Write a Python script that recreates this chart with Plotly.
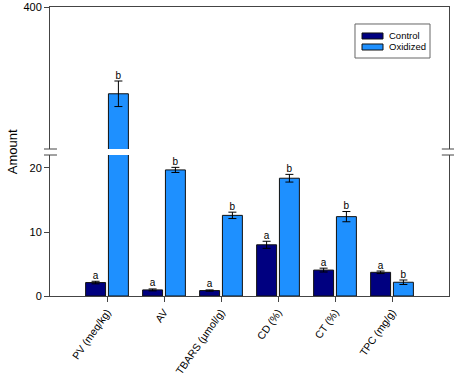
import plotly.graph_objects as go

categories = ["PV (meq/kg)", "AV", "TBARS (µmol/g)", "CD (%)", "CT (%)", "TPC (mg/g)"]
series_names = ["Control", "Oxidized"]
control = [2.1, 0.95, 0.85, 8.0, 4.05, 3.7]
control_err = [0.2, 0.15, 0.1, 0.55, 0.3, 0.2]
oxidized = [169.0, 19.7, 12.6, 18.4, 12.4, 2.15]
oxidized_err = [34.0, 0.4, 0.5, 0.6, 0.8, 0.35]
control_letters = ["a", "a", "a", "a", "a", "a"]
oxidized_letters = ["b", "b", "b", "b", "b", "b"]

LOW_MAX = 22.03
HIGH_MIN = 22.0
HIGH_MAX = 400.0

FONT = "Liberation Sans, Arial, sans-serif"
C_CTRL = "#000080"
C_OX = "#1E90FF"

idx = list(range(len(categories)))
x_ctrl = [i - 0.2 for i in idx]
x_ox = [i + 0.2 for i in idx]

fig = go.Figure()

for yax in ("y", "y2"):
    xax = "x" if yax == "y" else "x2"
    fig.add_trace(go.Bar(
        x=x_ctrl, y=control, width=0.35, name=series_names[0], marker_color=C_CTRL,
        marker_line=dict(color="#111", width=1),
        error_y=dict(type="data", array=control_err, color="black", thickness=1, width=4),
        xaxis=xax, yaxis=yax, showlegend=False))
    fig.add_trace(go.Bar(
        x=x_ox, y=oxidized, width=0.35, name=series_names[1], marker_color=C_OX,
        marker_line=dict(color="#111", width=1),
        error_y=dict(type="data", array=oxidized_err, color="black", thickness=1, width=4),
        xaxis=xax, yaxis=yax, showlegend=False))

# significance letters
for yax, lo, hi in (("y", 0, LOW_MAX), ("y2", HIGH_MIN, HIGH_MAX)):
    xax = "x" if yax == "y" else "x2"
    xs, ys, ts = [], [], []
    for i in idx:
        for xv, v, e, t in ((x_ctrl[i], control[i], control_err[i], control_letters[i]),
                            (x_ox[i], oxidized[i], oxidized_err[i], oxidized_letters[i])):
            top = v + e
            if lo <= top <= hi:
                xs.append(xv); ys.append(top); ts.append(t)
    fig.add_trace(go.Scatter(
        x=xs, y=ys, text=ts, mode="text", textposition="top center",
        textfont=dict(size=10, color="black", family=FONT),
        xaxis=xax, yaxis=yax, showlegend=False, hoverinfo="skip", cliponaxis=False))

low_top = 141 / 289
high_bot = 147 / 289

axis_common = dict(showgrid=False, zeroline=False, showline=True, linecolor="#444",
                   linewidth=1, ticks="outside", ticklen=5, tickcolor="#444",
                   automargin=False,
                   tickfont=dict(size=11, color="black", family=FONT))

fig.update_layout(
    width=459, height=376,
    margin=dict(l=50, r=10, t=7, b=80),
    plot_bgcolor="white", paper_bgcolor="white",
    barmode="overlay",
    font=dict(family=FONT, color="black"),
    xaxis=dict(**axis_common, range=[-1, 6], tickvals=idx, ticktext=categories,
               tickangle=-55, anchor="y", mirror=False),
    xaxis2=dict(showgrid=False, zeroline=False, showline=True, linecolor="#444",
                range=[-1, 6], matches="x", anchor="y2", side="top",
                showticklabels=False, ticks="", automargin=False),
    yaxis=dict(**axis_common, domain=[0, low_top], range=[0, LOW_MAX],
               tickvals=[0, 10, 20], mirror=True),
    yaxis2=dict(**axis_common, domain=[high_bot, 1], range=[HIGH_MIN, HIGH_MAX],
                tickvals=[400], mirror=True),
    showlegend=False,
)
fig.update_xaxes(tickfont_size=10.5, selector=dict(anchor="y"))

shapes = []
# axis break marks
for x0, x1 in ((-0.015, 0.0175), (0.982, 1.0125)):
    for yy in (low_top, high_bot):
        shapes.append(dict(type="line", xref="paper", yref="paper",
                           x0=x0, x1=x1, y0=yy, y1=yy,
                           line=dict(color="#444", width=1)))
# legend box
shapes.append(dict(type="rect", xref="paper", yref="paper",
                   x0=0.7644, x1=0.9524, y0=0.8235, y1=0.9412,
                   line=dict(color="#666", width=1), fillcolor="white"))
for name, col, yc in ((series_names[0], C_CTRL, 0.8997), (series_names[1], C_OX, 0.8616)):
    shapes.append(dict(type="rect", xref="paper", yref="paper",
                       x0=0.782, x1=0.8346, y0=yc - 0.0104, y1=yc + 0.0104,
                       line=dict(color="#111", width=1), fillcolor=col))
    fig.add_annotation(text=name, xref="paper", yref="paper", x=0.8446, y=yc,
                       xanchor="left", yanchor="middle", showarrow=False,
                       font=dict(size=9.5, family=FONT, color="black"))
fig.update_layout(shapes=shapes)

fig.add_annotation(text="Amount", xref="paper", yref="paper",
                   x=-0.095, y=0.498, textangle=-90, showarrow=False,
                   xanchor="center", yanchor="middle",
                   font=dict(size=13, family=FONT, color="black"))

fig.write_html("out.html", config={"displayModeBar": False},
               post_script="document.body.style.margin='0';document.body.style.padding='0';")
